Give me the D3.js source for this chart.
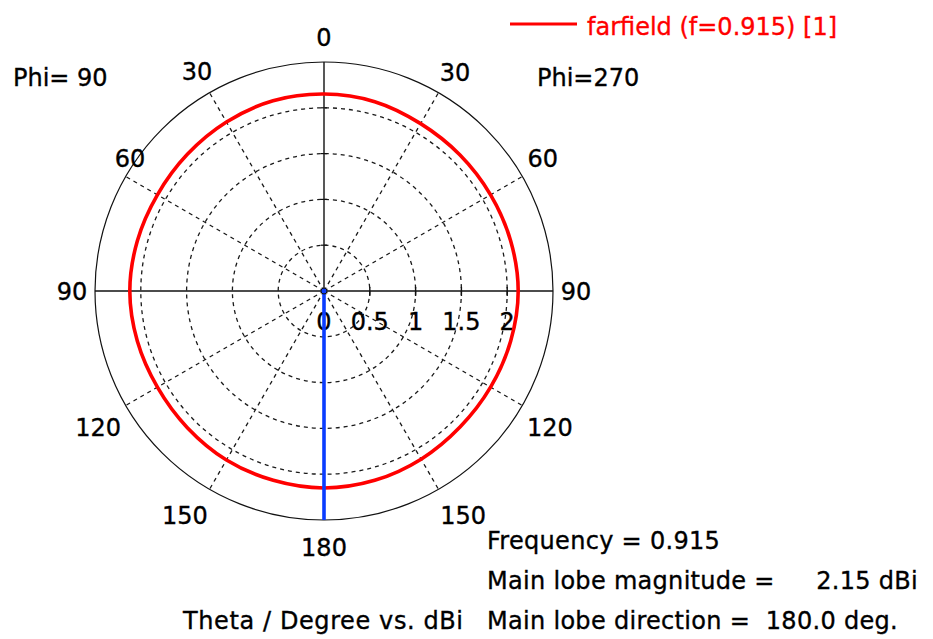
<!DOCTYPE html>
<html>
<head>
<meta charset="utf-8">
<script src="https://cdn.jsdelivr.net/npm/d3@7"></script>
<style>
  html, body { margin: 0; padding: 0; background: #fff; }
  svg { display: block; }
  text { font-family: "DejaVu Sans", Verdana, sans-serif; stroke-width: 0.35px; paint-order: stroke; }
</style>
</head>
<body>
<svg id="chart" width="933" height="639"></svg>
<script>
// Theta sample points (degrees) for each half-cut
const thetaDeg = [0, 15, 30, 45, 60, 75, 90, 105, 120, 135, 150, 165, 180];
// Gain in dBi, Phi = 90 cut (drawn on the left half)
const gainPhi90 = [2.15, 2.15, 2.13, 2.11, 2.10, 2.11, 2.12, 2.11, 2.10, 2.11, 2.13, 2.14, 2.15];
// Gain in dBi, Phi = 270 cut (drawn on the right half)
const gainPhi270 = [2.15, 2.14, 2.11, 2.10, 2.10, 2.11, 2.12, 2.11, 2.10, 2.10, 2.12, 2.14, 2.15];

const radialTicks = [0, 0.5, 1, 1.5, 2];
const radialMax = 2.5;
const angleLabels = [0, 30, 60, 90, 120, 150, 180];
const spokeAngles = [30, 60, 120, 150];

const mainLobeDirection = 180.0;
const mainLobeMagnitude = 2.15;
const frequency = 0.915;

const svg = d3.select("#chart");
const cx = 324, cy = 291, R = 229;
const fs = 24;

const r = d3.scaleLinear().domain([0, radialMax]).range([0, R]);
// Screen angle in radians (clockwise from the top) for a theta on a given side
const toRad = (theta, side) => (side < 0 ? -theta : theta) * Math.PI / 180;

const g = svg.append("g").attr("transform", `translate(${cx},${cy})`);

// Dashed gain circles
g.selectAll("circle.grid")
  .data(radialTicks.filter(d => d > 0))
  .join("circle")
  .attr("class", "grid")
  .attr("r", d => r(d))
  .attr("fill", "none")
  .attr("stroke", "#1a1a1a")
  .attr("stroke-width", 1.3)
  .attr("stroke-dasharray", "4,4");

// Dashed angular spokes on both halves
const spokes = [];
spokeAngles.forEach(a => { spokes.push(toRad(a, -1)); spokes.push(toRad(a, 1)); });
g.selectAll("line.spoke")
  .data(spokes)
  .join("line")
  .attr("class", "spoke")
  .attr("x1", 0).attr("y1", 0)
  .attr("x2", a => R * Math.sin(a))
  .attr("y2", a => -R * Math.cos(a))
  .attr("stroke", "#1a1a1a")
  .attr("stroke-width", 1.3)
  .attr("stroke-dasharray", "4,4");

// Outer boundary
g.append("circle")
  .attr("r", r(radialMax))
  .attr("fill", "none")
  .attr("stroke", "#111")
  .attr("stroke-width", 1.2);

// Solid axes
g.append("line").attr("x1", -R).attr("x2", R).attr("y1", 0).attr("y2", 0)
  .attr("stroke", "#111").attr("stroke-width", 1.4);
g.append("line").attr("x1", 0).attr("x2", 0).attr("y1", -R).attr("y2", R)
  .attr("stroke", "#111").attr("stroke-width", 1.4);

// Tick marks on the axes
radialTicks.filter(d => d > 0).forEach(d => {
  g.append("line").attr("x1", r(d)).attr("x2", r(d)).attr("y1", -4).attr("y2", 5)
    .attr("stroke", "#111").attr("stroke-width", 1.4);
  g.append("line").attr("x1", -3).attr("x2", 3).attr("y1", -r(d)).attr("y2", -r(d))
    .attr("stroke", "#111").attr("stroke-width", 1.2);
});

// Radial tick labels
g.selectAll("text.rtick")
  .data(radialTicks)
  .join("text")
  .attr("class", "rtick")
  .attr("x", d => r(d))
  .attr("y", 39)
  .attr("text-anchor", "middle")
  .attr("font-size", fs)
  .attr("fill", "#000").attr("stroke", "#000")
  .text(d => d3.format("")(d));

// Angle labels: polar placement of each label centre around the dial
function labelPos(a, side) {
  let rad = 254, shift = 0;
  if (a === 60 && side < 0) { rad = 235; shift = -4.4; }
  else if (a === 60) { rad = 256; shift = -1.3; }
  else if (a === 30 && side > 0) { rad = 255; shift = 0.9; }
  else if (a === 90) { rad = 252; }
  else if (a === 120) { rad = 264; shift = 1.2; }
  else if (a === 150) { rad = 264; shift = -1.8; }
  else if (a === 180) { rad = 256; }
  const ang = toRad(a + shift, side);
  return [rad * Math.sin(ang), -rad * Math.cos(ang)];
}
const angleData = [];
angleLabels.forEach(a => {
  if (a === 0 || a === 180) angleData.push({ a, side: 1 });
  else { angleData.push({ a, side: -1 }); angleData.push({ a, side: 1 }); }
});
g.selectAll("text.alabel")
  .data(angleData)
  .join("text")
  .attr("class", "alabel")
  .attr("x", d => labelPos(d.a, d.side)[0])
  .attr("y", d => labelPos(d.a, d.side)[1])
  .attr("dy", "0.36em")
  .attr("text-anchor", "middle")
  .attr("font-size", fs)
  .attr("fill", "#000").attr("stroke", "#000")
  .text(d => d.a);

// Farfield pattern curve: right half (Phi=270) then left half (Phi=90)
const pts = [];
thetaDeg.forEach((t, i) => pts.push({ ang: toRad(t, 1), v: gainPhi270[i] }));
for (let i = thetaDeg.length - 2; i > 0; i--) pts.push({ ang: toRad(thetaDeg[i], -1), v: gainPhi90[i] });

const line = d3.lineRadial()
  .angle(d => d.ang)
  .radius(d => r(d.v))
  .curve(d3.curveCatmullRomClosed);

g.append("path")
  .attr("d", line(pts))
  .attr("fill", "none")
  .attr("stroke", "#ff0000")
  .attr("stroke-width", 3.6);

// Main lobe direction marker
const ml = toRad(mainLobeDirection, 1);
g.append("line")
  .attr("x1", 0).attr("y1", 0)
  .attr("x2", R * Math.sin(ml)).attr("y2", -R * Math.cos(ml))
  .attr("stroke", "#0a3cff")
  .attr("stroke-width", 3.6);
g.append("circle").attr("r", 3).attr("fill", "#0a3cff").attr("stroke", "#111").attr("stroke-width", 1);

// Legend
svg.append("line").attr("x1", 510).attr("x2", 577).attr("y1", 24).attr("y2", 24)
  .attr("stroke", "#ff0000").attr("stroke-width", 3);
svg.append("text").attr("x", 587).attr("y", 35).attr("font-size", fs)
  .attr("fill", "#ff0000").attr("stroke", "#ff0000")
  .text(`farfield (f=${frequency}) [1]`);

// Cut labels
const plain = (x, y, s, anchor, spacing) => svg.append("text")
  .attr("x", x).attr("y", y).attr("font-size", fs)
  .attr("text-anchor", anchor || "start")
  .attr("letter-spacing", spacing || 0)
  .attr("fill", "#000").attr("stroke", "#000")
  .text(s);
plain(13, 86, "Phi= 90");
plain(537, 86, "Phi=270");

// Info block
plain(487, 549, `Frequency = ${frequency}`, "start", 0.3);
plain(487, 589, "Main lobe magnitude =", "start", 0.3);
plain(918, 589, `${d3.format(".2f")(mainLobeMagnitude)} dBi`, "end", 0.3);
plain(487, 629, "Main lobe direction =", "start", 0.3);
plain(898, 629, `${d3.format(".1f")(mainLobeDirection)} deg.`, "end", 0.3);
plain(183, 629, "Theta / Degree vs. dBi", "start", 0.6);
</script>
</body>
</html>
